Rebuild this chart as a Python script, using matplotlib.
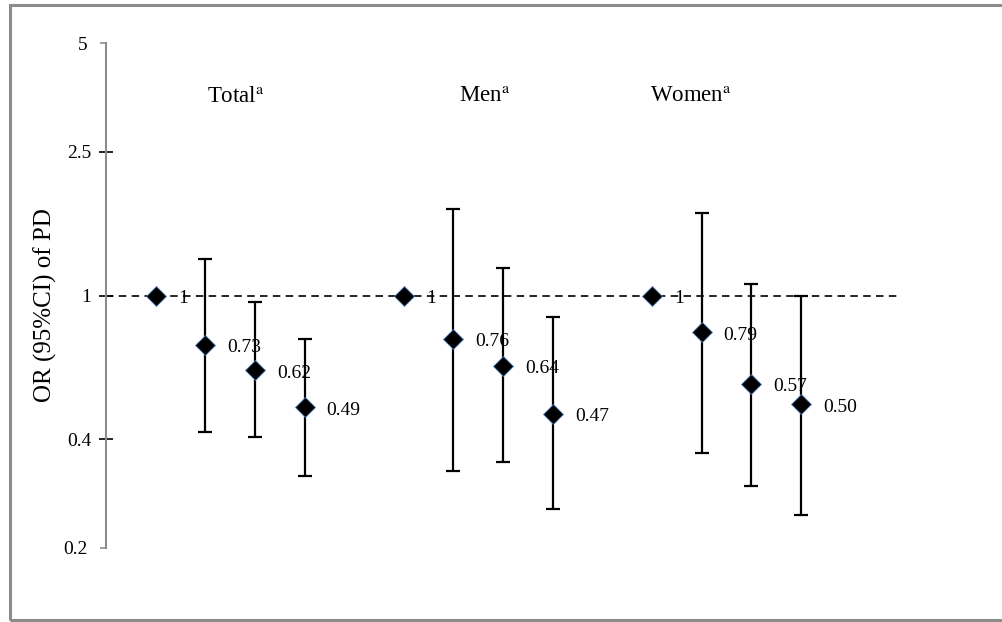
import matplotlib
matplotlib.use('Agg')
import matplotlib.pyplot as plt
from matplotlib.patches import Rectangle

plt.rcParams['mathtext.fontset'] = 'stix'

# OR and 95% CI per group (reference category = 1)
groups = ['Total', 'Men', 'Women']
or_total = [1, 0.73, 0.62, 0.49]
lo_total = [1, 0.418, 0.407, 0.316]
hi_total = [1, 1.26, 0.96, 0.76]
or_men = [1, 0.76, 0.64, 0.47]
lo_men = [1, 0.327, 0.347, 0.256]
hi_men = [1, 1.74, 1.19, 0.874]
or_women = [1, 0.79, 0.57, 0.50]
lo_women = [1, 0.367, 0.297, 0.247]
hi_women = [1, 1.69, 1.076, 0.997]
labels_total = ['1', '0.73', '0.62', '0.49']
labels_men = ['1', '0.76', '0.64', '0.47']
labels_women = ['1', '0.79', '0.57', '0.50']
ytick_major = [0.4, 1, 2.5]
ytick_ends = [0.2, 5]

fig = plt.figure(figsize=(10.03, 6.22), dpi=100)
fig.patches.append(Rectangle((10 / 1003, 2 / 622), 1.05, 615 / 622, transform=fig.transFigure,
                             fill=False, edgecolor='#8c8c8c', linewidth=2.2))
ax = fig.add_axes([106 / 1003, 1 - 548 / 622, (900 - 106) / 1003, (548 - 43) / 622])

data = [(or_total, lo_total, hi_total, labels_total),
        (or_men, lo_men, hi_men, labels_men),
        (or_women, lo_women, hi_women, labels_women)]
title_x = [2.03, 7.12, 10.97]

ax.axhline(1, color='black', linestyle=(0, (4.5, 3.2)), linewidth=1.2, zorder=1)

for g, (ors, lo, hi, labs) in enumerate(data):
    xs = [g * 5 + i + 1 for i in range(len(ors))]
    # reference category has no error bar
    ax.errorbar(xs[1:], ors[1:],
                yerr=[[o - l for o, l in zip(ors[1:], lo[1:])], [h - o for o, h in zip(ors[1:], hi[1:])]],
                fmt='none', ecolor='black', elinewidth=1.6, capsize=5, capthick=1.6, zorder=2)
    ax.plot(xs, ors, linestyle='none', marker='D', markersize=10, markerfacecolor='black',
            markeredgecolor='#4f81bd', markeredgewidth=0.6, zorder=3)
    for x, o, t in zip(xs, ors, labs):
        ax.annotate(t, (x, o), xytext=(16, -2), textcoords='offset points', ha='left', va='center',
                    fontsize=14, family='Liberation Serif', zorder=4)
    ax.text(title_x[g], 3.55, groups[g] + r'$^{\mathrm{a}}$', ha='left', va='center',
            fontsize=16.5, family='Liberation Serif')

ax.set_yscale('log')
ax.set_ylim(0.2, 5)
ax.set_xlim(0, 16)
ax.set_yticks(ytick_major)
ax.set_yticklabels(['0.4', '1', '2.5'])
ax.set_yticks(ytick_ends, minor=True)
ax.set_yticklabels(['0.2', '5'], minor=True)
ax.tick_params(axis='y', which='major', direction='inout', length=9.5, width=1.2, color='black',
               labelsize=14, pad=6)
ax.tick_params(axis='y', which='minor', direction='out', length=4.5, width=1.2, color='#8c8c8c',
               labelsize=14, pad=9)
for lab in ax.get_yticklabels(which='both'):
    lab.set_family('Liberation Serif')
ax.set_xticks([])
for s in ['top', 'right', 'bottom']:
    ax.spines[s].set_visible(False)
ax.spines['left'].set_color('#8c8c8c')
ax.spines['left'].set_linewidth(1.5)

fig.text(45 / 1003, 1 - 305 / 622, 'OR (95%CI) of PD', rotation=90, ha='center', va='center',
         fontsize=18, family='Liberation Serif')

fig.savefig('out.png', dpi=100)
